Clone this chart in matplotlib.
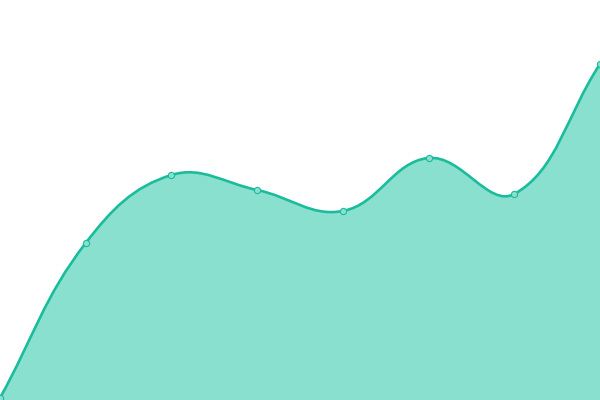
import numpy as np
import matplotlib
matplotlib.use("Agg")
import matplotlib.pyplot as plt
from matplotlib.path import Path
from matplotlib.patches import PathPatch

labels = ["1", "2", "3", "4", "5", "6", "7", "8"]
values = [2, 157, 225, 210, 189, 242, 206, 336]

line_color = "#1abc9c"
fill_color = "#8ae0cf"
tension = 0.4

W, H = 600, 400
x = np.arange(len(values), dtype=float)
y = np.array(values, dtype=float)
ymin, ymax = 0, 400

fig = plt.figure(figsize=(6, 4), dpi=100)
ax = fig.add_axes([0, 0, 1, 1])
ax.set_xlim(0, len(values) - 1)
ax.set_ylim(ymin, ymax)
ax.axis("off")

# pixel coordinates for control point distances (Chart.js style spline)
px = x * W / (len(values) - 1)
py = (y - ymin) * H / (ymax - ymin)
n = len(values)
cps = []
for i in range(n):
    p0 = (px[max(i - 1, 0)], py[max(i - 1, 0)])
    p1 = (px[i], py[i])
    p2 = (px[min(i + 1, n - 1)], py[min(i + 1, n - 1)])
    d01 = np.hypot(p1[0] - p0[0], p1[1] - p0[1])
    d12 = np.hypot(p2[0] - p1[0], p2[1] - p1[1])
    tot = d01 + d12
    s01 = d01 / tot if tot else 0
    s12 = d12 / tot if tot else 0
    fa, fb = tension * s01, tension * s12
    c_prev = (p1[0] - fa * (p2[0] - p0[0]), p1[1] - fa * (p2[1] - p0[1]))
    c_next = (p1[0] + fb * (p2[0] - p0[0]), p1[1] + fb * (p2[1] - p0[1]))
    cps.append((c_prev, c_next))

def to_data(p):
    return (p[0] * (n - 1) / W, p[1] * (ymax - ymin) / H + ymin)

verts = [(x[0], y[0])]
codes = [Path.MOVETO]
for i in range(n - 1):
    verts += [to_data(cps[i][1]), to_data(cps[i + 1][0]), (x[i + 1], y[i + 1])]
    codes += [Path.CURVE4] * 3

fill_verts = verts + [(x[-1], ymin), (x[0], ymin), (x[0], y[0])]
fill_codes = codes + [Path.LINETO, Path.LINETO, Path.CLOSEPOLY]

ax.add_patch(PathPatch(Path(fill_verts, fill_codes), facecolor=fill_color,
                       edgecolor="none"))
ax.add_patch(PathPatch(Path(verts, codes), facecolor="none",
                       edgecolor=line_color, linewidth=1.9))
ax.plot(x, y, "o", markersize=4.5, markerfacecolor=fill_color,
        markeredgecolor=line_color, markeredgewidth=0.8, clip_on=False)

fig.savefig("out.png", dpi=100)
